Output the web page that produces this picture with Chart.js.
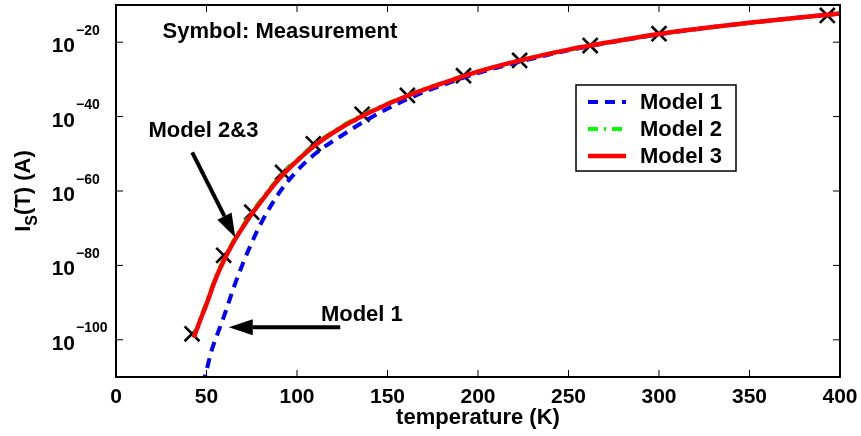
<!DOCTYPE html>
<html>
<head>
<meta charset="utf-8">
<title>Saturation current vs temperature</title>
<script src="https://cdn.jsdelivr.net/npm/chart.js@4/dist/chart.umd.min.js"></script>
<style>
  html,body{margin:0;padding:0;background:#fff}
  #wrap{width:861px;height:436px}
</style>
</head>
<body>
<div id="wrap"><canvas id="c" width="861" height="436"></canvas></div>
<script>
// measured points: temperature (K) and log10 of I_S (A)
const measT   = [42, 59.5, 75, 92, 109, 136, 161, 192, 223, 262, 300, 393];
const measExp = [-98.4, -77.3, -65.7, -55.0, -47.3, -39.4, -34.3, -29.0, -24.9, -20.9, -17.7, -12.8];

// model curves, log10 of I_S (A)
const model1T   = [48, 50, 53, 56, 60, 65, 70, 75, 80, 90, 100, 110, 125, 140, 160, 180, 200, 225, 250, 275, 300, 325, 350, 375, 400];
const model1Exp = [-112, -108.2, -102.6, -98.5, -93.2, -86.0, -79.6, -73.9, -68.8, -60.6, -54.6, -50.0, -45.0, -40.5, -35.5, -31.6, -28.3, -25.0, -22.2, -19.9, -17.9, -16.2, -14.8, -13.5, -12.3];
const modelT    = [43, 46, 50, 55, 60, 65, 70, 75, 80, 90, 100, 110, 125, 140, 160, 180, 200, 225, 250, 275, 300, 325, 350, 375, 400];
const model2Exp = [-99.0, -95.0, -90.0, -83.3, -77.9, -73.3, -69.4, -65.8, -62.5, -56.4, -51.6, -47.4, -42.5, -38.7, -34.5, -31.0, -27.9, -24.7, -22.0, -19.8, -17.8, -16.2, -14.8, -13.5, -12.3];
const model3Exp = [-99.4, -95.4, -90.4, -83.7, -78.3, -73.7, -69.8, -66.2, -62.9, -56.8, -51.9, -47.7, -42.8, -38.9, -34.6, -31.1, -27.9, -24.7, -22.0, -19.8, -17.8, -16.2, -14.8, -13.5, -12.3];

const xTicks    = [0, 50, 100, 150, 200, 250, 300, 350, 400];
const yTickExps = [-100, -80, -60, -40, -20];

// annotations, in data units (T, log10 I)
const notes = [
  {text: 'Symbol: Measurement', t: 25.7, e: -18.9},
  {text: 'Model 2&3',           t: 17.9, e: -45.5},
  {text: 'Model 1',             t: 113.2, e: -95.0},
];
const arrows = [
  {from: [42.1, -49.6], to: [65.9, -72.5]},
  {from: [123.9, -96.6], to: [62.3, -96.6]},
];

const FONT = '"Liberation Sans", Arial, Helvetica, sans-serif';
const pts = (ts, es) => ts.map((t, i) => ({x: t, y: Math.pow(10, es[i])}));

const datasets = [
  {label: 'Measurement', data: pts(measT, measExp), showLine: false,
   pointStyle: 'crossRot', pointRadius: 10.5, pointBorderWidth: 2.6,
   pointBorderColor: '#000', borderColor: '#000', order: 3},
  {label: 'Model 1', data: pts(model1T, model1Exp), showLine: true, pointRadius: 0,
   borderColor: '#0000ff', borderWidth: 4, borderDash: [10, 7],
   cubicInterpolationMode: 'monotone', clip: 0, order: 2},
  {label: 'Model 2', data: pts(modelT, model2Exp), showLine: true, pointRadius: 0,
   borderColor: '#00ff00', borderWidth: 4, borderDash: [10, 6, 2, 6],
   cubicInterpolationMode: 'monotone', clip: 0, order: 1},
  {label: 'Model 3', data: pts(modelT, model3Exp), showLine: true, pointRadius: 0,
   borderColor: '#ff0000', borderWidth: 4.5,
   cubicInterpolationMode: 'monotone', clip: 0, order: 0},
];

function seg(ctx, x1, y1, x2, y2) {
  ctx.beginPath(); ctx.moveTo(x1, y1); ctx.lineTo(x2, y2); ctx.stroke();
}

function arrow(ctx, x1, y1, x2, y2) {
  const ang = Math.atan2(y2 - y1, x2 - x1), len = 24, hw = 8;
  const bx = x2 - len * Math.cos(ang), by = y2 - len * Math.sin(ang);
  ctx.lineWidth = 4;
  seg(ctx, x1, y1, bx, by);
  ctx.beginPath();
  ctx.moveTo(x2, y2);
  ctx.lineTo(bx + hw * Math.sin(ang), by - hw * Math.cos(ang));
  ctx.lineTo(bx - hw * Math.sin(ang), by + hw * Math.cos(ang));
  ctx.closePath();
  ctx.fill();
}

const decor = {
  id: 'decor',
  afterDatasetsDraw(chart) {
    const {ctx, chartArea: a, scales: {x, y}} = chart;
    const px = t => x.getPixelForValue(t);
    const py = e => y.getPixelForValue(Math.pow(10, e));
    ctx.save();
    ctx.strokeStyle = '#000';
    ctx.fillStyle = '#000';

    // inward ticks on all four sides
    ctx.lineWidth = 1;
    xTicks.forEach(v => {
      const p = px(v);
      seg(ctx, p, a.bottom, p, a.bottom - 7);
      seg(ctx, p, a.top, p, a.top + 7);
    });
    yTickExps.forEach(e => {
      const p = py(e);
      seg(ctx, a.left, p, a.left + 7, p);
      seg(ctx, a.right, p, a.right - 7, p);
    });

    // axes box
    ctx.lineWidth = 2;
    ctx.strokeRect(a.left, a.top, a.right - a.left, a.bottom - a.top);

    // x tick labels
    ctx.font = 'bold 21px ' + FONT;
    ctx.textAlign = 'center';
    ctx.textBaseline = 'alphabetic';
    xTicks.forEach(v => ctx.fillText(String(v), px(v), a.bottom + 26));

    // y tick labels 10^n
    yTickExps.forEach(e => {
      const p = py(e);
      ctx.font = 'bold 21px ' + FONT;
      ctx.textAlign = 'right';
      ctx.fillText('10', a.left - 41, p + 10);
      ctx.font = 'bold 14px ' + FONT;
      ctx.textAlign = 'left';
      ctx.fillText('\u2212' + Math.abs(e), a.left - 40, p - 7.5);
    });

    // axis titles
    ctx.font = 'bold 22px ' + FONT;
    ctx.textAlign = 'center';
    ctx.fillText('temperature (K)', (a.left + a.right) / 2, 424);

    ctx.save();
    ctx.translate(30, (a.top + a.bottom) / 2);
    ctx.rotate(-Math.PI / 2);
    ctx.textAlign = 'left';
    const w1 = ctx.measureText('I').width;
    ctx.font = 'bold 16px ' + FONT;
    const w2 = ctx.measureText('S').width;
    ctx.font = 'bold 22px ' + FONT;
    const w3 = ctx.measureText('(T) (A)').width;
    let sx = -(w1 + w2 + w3) / 2;
    ctx.fillText('I', sx, 0); sx += w1;
    ctx.font = 'bold 16px ' + FONT;
    ctx.fillText('S', sx, 7); sx += w2;
    ctx.font = 'bold 22px ' + FONT;
    ctx.fillText('(T) (A)', sx, 0);
    ctx.restore();

    // text notes and arrows
    ctx.font = 'bold 22px ' + FONT;
    ctx.textAlign = 'left';
    notes.forEach(n => ctx.fillText(n.text, px(n.t), py(n.e)));
    arrows.forEach(r => arrow(ctx, px(r.from[0]), py(r.from[1]), px(r.to[0]), py(r.to[1])));

    // legend box
    const lx = a.left + 460, ly = a.top + 80, lw = 160, lh = 86;
    ctx.fillStyle = '#fff';
    ctx.fillRect(lx, ly, lw, lh);
    ctx.lineWidth = 1.5;
    ctx.strokeRect(lx, ly, lw, lh);
    ctx.font = 'bold 22px ' + FONT;
    ctx.textBaseline = 'middle';
    [1, 2, 3].forEach((di, i) => {
      const ds = chart.data.datasets[di];
      const ry = ly + 17 + i * 27;
      ctx.save();
      ctx.strokeStyle = ds.borderColor;
      ctx.lineWidth = ds.borderWidth;
      ctx.setLineDash(ds.borderDash || []);
      seg(ctx, lx + 12, ry, lx + 50, ry);
      ctx.restore();
      ctx.fillStyle = '#000';
      ctx.fillText(ds.label, lx + 64, ry + 1);
    });
    ctx.restore();
  }
};

new Chart(document.getElementById('c'), {
  type: 'scatter',
  data: {datasets},
  options: {
    responsive: false,
    animation: false,
    events: [],
    layout: {autoPadding: false, padding: {top: 5, right: 21, bottom: 0, left: 0}},
    plugins: {legend: {display: false}, tooltip: {enabled: false}},
    scales: {
      x: {type: 'linear', min: 0, max: 400,
          grid: {display: false, drawTicks: false}, border: {display: false},
          ticks: {display: false},
          afterFit: s => { s.height = 59; }},
      y: {type: 'logarithmic', min: 1e-110, max: 1e-10,
          grid: {display: false, drawTicks: false}, border: {display: false},
          ticks: {display: false},
          afterBuildTicks: s => { s.ticks = yTickExps.map(e => ({value: Math.pow(10, e)})); },
          afterFit: s => { s.width = 116; }},
    }
  },
  plugins: [decor]
});
</script>
</body>
</html>
